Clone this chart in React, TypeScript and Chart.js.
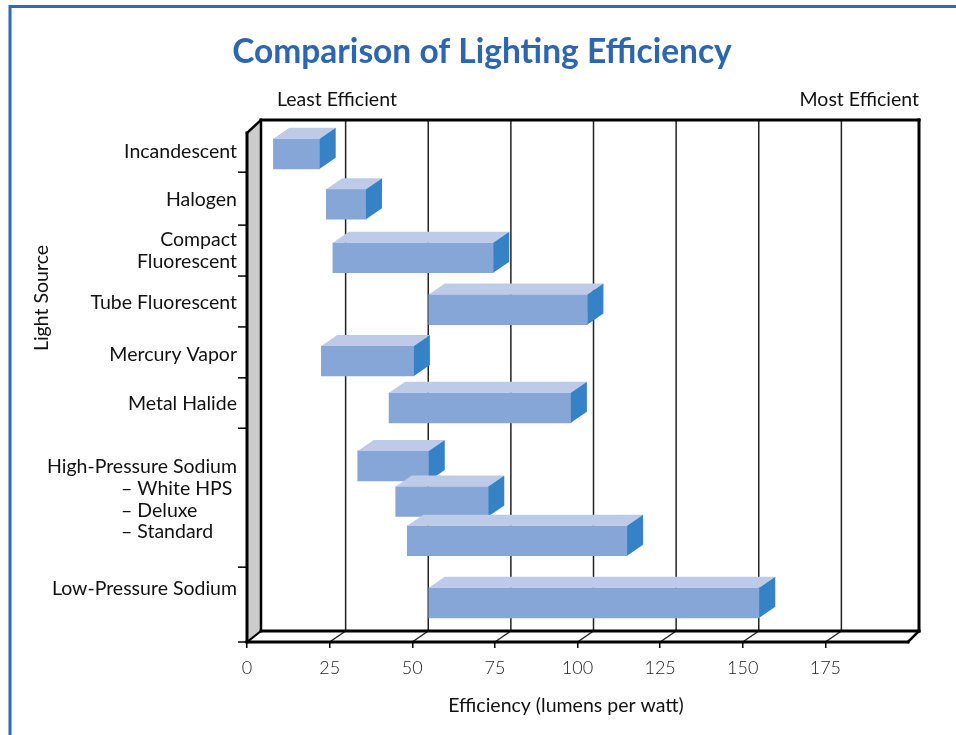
import { useEffect, useRef } from 'react';
import { Chart, registerables } from 'chart.js';

Chart.register(...registerables);

// ---- data ----
const sources = [
  'Incandescent', 'Halogen', 'Compact Fluorescent', 'Tube Fluorescent', 'Mercury Vapor',
  'Metal Halide', 'White HPS', 'Deluxe', 'Standard', 'Low-Pressure Sodium',
];
const lowEff = [8, 24, 26, 55, 22.5, 43, 33.5, 45, 48.5, 55];
const highEff = [22, 36, 74.5, 103, 50.5, 98, 55, 73, 115, 155];
// position of each bar along the (row) category axis
const barRows = [0.41, 1.4, 2.45, 3.47, 4.48, 5.4, 6.54, 7.24, 8.01, 9.23];

const labelTexts: (string | string[])[] = [
  'Incandescent', 'Halogen', ['Compact', 'Fluorescent'], 'Tube Fluorescent',
  'Mercury Vapor', 'Metal Halide', 'High-Pressure Sodium', 'Low-Pressure Sodium',
];
const labelRows = [0.37, 1.32, 2.31, 3.33, 4.35, 5.31, 6.56, 8.95];
const hpsSubLabels = ['\u2013 White HPS', '\u2013 Deluxe', '\u2013 Standard'];
const groupBoundaryRows = [0.77, 1.81, 2.81, 3.81, 4.81, 5.8, 8.53];
const effTicks = [0, 25, 50, 75, 100, 125, 150, 175];

const TITLE = 'Comparison of Lighting Efficiency';
const X_TITLE = 'Efficiency (lumens per watt)';
const Y_TITLE = 'Light Source';
const LEAST = 'Least Efficient';
const MOST = 'Most Efficient';

const FONT = 'Lato, "DejaVu Sans", sans-serif';
const FRONT = '#86A6D7';
const TOPC = '#BDCBE8';
const SIDE = '#3583C6';
const LABEL_SIZE = 19.5;

const threeD = {
  id: 'threeD',
  beforeDraw(chart: any) {
    const { ctx, width, height } = chart;
    ctx.save();
    ctx.fillStyle = '#ffffff';
    ctx.fillRect(0, 0, width, height);
    ctx.strokeStyle = '#2E6BB5';
    ctx.lineWidth = 3;
    ctx.beginPath();
    ctx.moveTo(10, height);
    ctx.lineTo(10, 6.5);
    ctx.lineTo(width, 6.5);
    ctx.stroke();
    ctx.restore();
  },
  beforeDatasetsDraw(chart: any) {
    const { ctx, chartArea, scales } = chart;
    const { left, right, top, bottom } = chartArea;
    const x = scales.x;
    const y = scales.y;
    const wl = 14, wt = -13, wr = 11, wb = -11;
    ctx.save();
    // left wall
    ctx.fillStyle = '#CCCCCC';
    ctx.beginPath();
    ctx.moveTo(left, top);
    ctx.lineTo(left + wl, top + wt);
    ctx.lineTo(left + wl, bottom + wb);
    ctx.lineTo(left, bottom);
    ctx.closePath();
    ctx.fill();
    // back-wall grid lines and floor diagonals
    ctx.strokeStyle = '#222';
    ctx.lineWidth = 1.5;
    effTicks.forEach((v) => {
      if (v === 0) return;
      const px = x.getPixelForValue(v);
      ctx.beginPath();
      ctx.moveTo(px + 16, top + wt);
      ctx.lineTo(px + 16, bottom + wb);
      ctx.stroke();
      ctx.beginPath();
      ctx.moveTo(px, bottom);
      ctx.lineTo(px + 16, bottom + wb);
      ctx.stroke();
    });
    // frame
    ctx.strokeStyle = '#000';
    ctx.lineCap = 'square';
    const seg = (x1: number, y1: number, x2: number, y2: number, lw: number) => {
      ctx.lineWidth = lw;
      ctx.beginPath();
      ctx.moveTo(x1, y1);
      ctx.lineTo(x2, y2);
      ctx.stroke();
    };
    seg(left + wl, top + wt, right + wr, top + wt, 3);
    seg(right + wr, top + wt, right + wr, bottom + wb, 3);
    seg(left + wl, bottom + wb, right + wr, bottom + wb, 3);
    seg(left, bottom, right, bottom, 3);
    seg(right, bottom, right + wr, bottom + wb, 2.5);
    seg(left, top, left, bottom, 3);
    seg(left + wl, top + wt, left + wl, bottom + wb, 2.5);
    seg(left, top, left + wl, top + wt, 2.5);
    seg(left, bottom, left + wl, bottom + wb, 2);
    ctx.lineCap = 'butt';
    groupBoundaryRows.forEach((r) => {
      const py = y.getPixelForValue(r);
      seg(left - 9, py, left, py, 1.5);
    });
    seg(left - 9, bottom, left, bottom, 1.5);
    ctx.restore();
  },
  afterDatasetsDraw(chart: any) {
    const { ctx } = chart;
    const meta = chart.getDatasetMeta(0);
    const dx = 16, dy = -11;
    ctx.save();
    meta.data.forEach((el: any) => {
      const p = el.getProps(['x', 'y', 'base', 'height'], true);
      const x0 = Math.min(p.x, p.base);
      const x1 = Math.max(p.x, p.base);
      const t = p.y - p.height / 2;
      const b = p.y + p.height / 2;
      ctx.fillStyle = TOPC;
      ctx.beginPath();
      ctx.moveTo(x0, t);
      ctx.lineTo(x1, t);
      ctx.lineTo(x1 + dx, t + dy);
      ctx.lineTo(x0 + dx, t + dy);
      ctx.closePath();
      ctx.fill();
      ctx.fillStyle = SIDE;
      ctx.beginPath();
      ctx.moveTo(x1, t);
      ctx.lineTo(x1 + dx, t + dy);
      ctx.lineTo(x1 + dx, b + dy);
      ctx.lineTo(x1, b);
      ctx.closePath();
      ctx.fill();
    });
    ctx.restore();
  },
  afterDraw(chart: any) {
    const { ctx, chartArea, scales } = chart;
    const { left, right } = chartArea;
    const y = scales.y;
    ctx.save();
    ctx.fillStyle = '#111';
    ctx.textBaseline = 'middle';
    ctx.font = `${LABEL_SIZE}px ${FONT}`;
    ctx.textAlign = 'left';
    ctx.fillText(LEAST, left + 30, 100);
    ctx.textAlign = 'right';
    ctx.fillText(MOST, right + 11, 100);
    // HPS sub labels
    ctx.textAlign = 'left';
    const hy = y.getPixelForValue(labelRows[6]);
    hpsSubLabels.forEach((s, i) => {
      ctx.fillText(s, left - 126, hy + 21.7 * (i + 1));
    });
    // x title
    ctx.textAlign = 'center';
    ctx.fillText(X_TITLE, 566, 706);
    // y title
    ctx.translate(42, 298);
    ctx.rotate(-Math.PI / 2);
    ctx.fillText(Y_TITLE, 0, 0);
    ctx.restore();
  },
};

export default function App() {
  const ref = useRef<HTMLCanvasElement | null>(null);
  useEffect(() => {
    if (!ref.current) return;
    const chart = new Chart(ref.current, {
      type: 'bar',
      data: {
        datasets: [
          {
            label: 'Efficiency',
            data: sources.map((s, i) => ({ x: [lowEff[i], highEff[i]], y: barRows[i], name: s })) as any,
            backgroundColor: FRONT,
            borderWidth: 0,
            barThickness: 30,
          },
        ],
      },
      options: {
        indexAxis: 'y',
        responsive: false,
        animation: false,
        layout: { padding: { left: 8, right: 0, top: 0, bottom: 0 } },
        plugins: {
          legend: { display: false },
          tooltip: { enabled: false },
          title: {
            display: true,
            text: TITLE,
            color: '#2C66B0',
            font: { family: FONT, size: 33.5, weight: 'bold', lineHeight: 1.2 },
            padding: { top: 32, bottom: 60.8 },
          },
        },
        scales: {
          x: {
            type: 'linear',
            position: 'bottom',
            min: 0,
            max: 200,
            offset: false,
            afterBuildTicks: (scale: any) => {
              scale.ticks = effTicks.map((v) => ({ value: v }));
            },
            afterFit: (scale: any) => {
              scale.height = 93;
            },
            grid: { drawOnChartArea: false, drawTicks: true, tickLength: 6, color: '#000', lineWidth: 1.5, offset: false },
            border: { display: false },
            ticks: {
              autoSkip: false,
              maxRotation: 0,
              padding: 9,
              color: '#222',
              font: { family: FONT, size: 18, weight: 300 },
            },
          },
          y: {
            type: 'linear',
            position: 'left',
            reverse: true,
            min: 0,
            max: 10,
            offset: false,
            afterBuildTicks: (scale: any) => {
              scale.ticks = labelRows.map((v) => ({ value: v }));
            },
            afterFit: (scale: any) => {
              scale.width = 239;
            },
            grid: { display: false, drawTicks: false, offset: false },
            border: { display: false },
            ticks: {
              autoSkip: false,
              padding: 10,
              color: '#111',
              font: { family: FONT, size: LABEL_SIZE, lineHeight: 1.13 },
              callback: (_v: any, i: number) => labelTexts[i],
            },
          },
          yRight: {
            type: 'linear',
            position: 'right',
            display: true,
            min: 0,
            max: 10,
            afterFit: (scale: any) => {
              scale.width = 48;
            },
            grid: { display: false, drawTicks: false },
            border: { display: false },
            ticks: { display: false },
          },
        },
      },
      plugins: [threeD],
    });
    return () => chart.destroy();
  }, []);
  return (
    <div style={{ position: 'fixed', left: 0, top: 0, width: 956, height: 735, background: '#fff' }}>
      <canvas ref={ref} width={956} height={735} style={{ display: 'block', width: 956, height: 735 }} />
    </div>
  );
}
